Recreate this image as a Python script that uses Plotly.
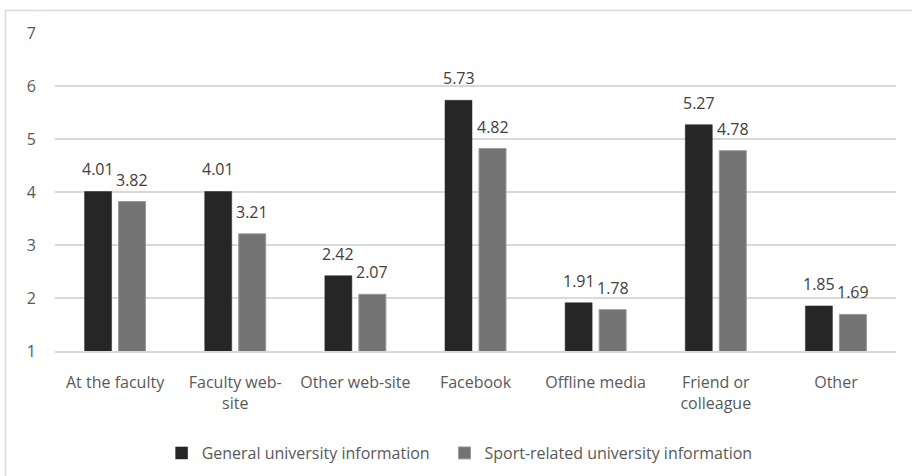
import plotly.graph_objects as go

categories = ["At the faculty", "Faculty web-<br>site", "Other web-site", "Facebook",
              "Offline media", "Friend or<br>colleague", "Other"]
general = [4.01, 4.01, 2.42, 5.73, 1.91, 5.27, 1.85]
sport = [3.82, 3.21, 2.07, 4.82, 1.78, 4.78, 1.69]
series_names = ["General university information", "Sport-related university information"]
y_ticks = [1, 2, 3, 4, 5, 6, 7]

FONT = "Open Sans"
TXT = "#595959"
LBL = "#404040"

fig = go.Figure()
fig.add_trace(go.Bar(
    x=categories, y=general, name=series_names[0], legend="legend",
    marker=dict(color="#262626", line=dict(color="#262626", width=0.5)),
))
fig.add_trace(go.Bar(
    x=categories, y=sport, name=series_names[1], legend="legend2",
    marker=dict(color="#737373", line=dict(color="#9a9a9a", width=1)),
))

annotations = []
for vals, shift in ((general, -17), (sport, 17)):
    for c, v in zip(categories, vals):
        annotations.append(dict(
            x=c, y=v, xref="x", yref="y", text=f"{v:.2f}", showarrow=False,
            xanchor="center", yanchor="bottom", xshift=shift, yshift=9,
            font=dict(family=FONT, size=16, color=LBL),
        ))

leg_common = dict(orientation="h", xanchor="left", yref="container", y=0.0483,
                  yanchor="middle", font=dict(family=FONT, size=16, color=TXT),
                  itemwidth=30, bgcolor="rgba(0,0,0,0)")

fig.update_layout(
    width=912, height=476,
    margin=dict(l=55, r=16, t=33, b=125, autoexpand=False),
    paper_bgcolor="white", plot_bgcolor="white",
    barmode="group", bargap=0.434, bargroupgap=0.206,
    font=dict(family=FONT, size=16, color=TXT),
    showlegend=True,
    legend=dict(x=0.1268, **leg_common),
    legend2=dict(x=0.4631, **leg_common),
    xaxis=dict(showgrid=False, showline=True, linecolor="#d9d9d9", linewidth=1.5,
               ticks="", tickfont=dict(family=FONT, size=16, color=TXT),
               ticklabelstandoff=16, automargin=False),
    yaxis=dict(range=[1, 7], tickvals=y_ticks, showgrid=True, gridcolor="#d9d9d9",
               gridwidth=1.5, zeroline=False, showline=False, ticks="",
               tickfont=dict(family=FONT, size=16, color=TXT), ticklabelstandoff=18,
               automargin=False),
    annotations=annotations,
    shapes=[dict(type="rect", xref="paper", yref="paper",
                 x0=-0.0589, x1=1.2, y0=-0.6, y1=1.0708,
                 line=dict(color="#d9d9d9", width=1.5), layer="below")],
)

fig.write_html("out.html", config={"displayModeBar": False},
               post_script="document.body.style.margin='0';")
